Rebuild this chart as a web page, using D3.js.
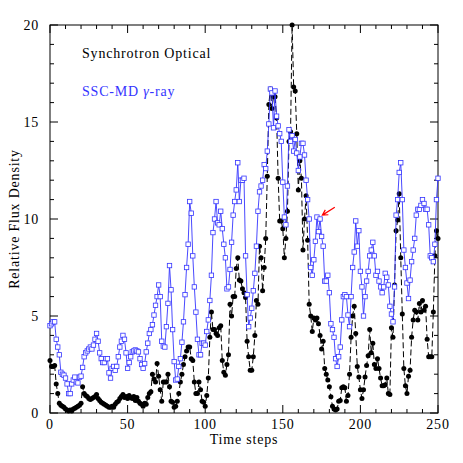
<!DOCTYPE html>
<html>
<head>
<meta charset="utf-8">
<script src="https://cdn.jsdelivr.net/npm/d3@7"></script>
<style>
  html, body { margin: 0; padding: 0; background: #fff; }
  svg text { font-family: "Liberation Serif", "DejaVu Serif", serif; letter-spacing: 0.8px; }
</style>
</head>
<body>
<svg class="flux-chart" width="463" height="463"></svg>
<script>
// values, one per time step (0..250)
const gamma = [
  4.5, 4.6, 4.7, 4.7, 3.8, 3.4, 3.0, 2.1, 2.0, 1.95,
  1.8, 1.5, 1.0, 1.0, 1.5, 1.7, 1.85, 1.6, 1.55, 1.85,
  1.9, 2.35, 2.9, 3.1, 3.2, 3.3, 3.4, 3.3, 3.5, 3.8,
  4.1, 3.7, 3.1, 2.8, 2.6, 2.6, 2.8, 2.8, 2.07, 1.8,
  2.3, 2.4, 2.2, 2.4, 2.9, 3.4, 3.7, 4.0, 3.8, 3.1,
  2.3, 2.6, 2.9, 3.15, 3.2, 3.25, 3.2, 3.15, 2.8, 2.5,
  2.3, 2.55, 3.15, 3.6, 4.1, 4.3, 4.55, 5.05, 5.55, 6.0,
  6.6, 6.0, 3.7, 3.45, 3.4, 4.45, 5.65, 7.6, 6.35, 4.3,
  2.65, 1.7, 1.75, 2.4, 2.8, 3.65, 4.7, 6.1, 7.5, 8.7,
  10.9, 10.3, 8.1, 6.5, 5.2, 3.8, 3.0, 3.0, 3.6, 3.6,
  3.5, 4.2, 4.8, 5.8, 7.1, 9.3, 10.0, 10.9, 9.8, 9.7,
  10.4, 9.5, 8.7, 8.0, 6.4, 6.5, 7.4, 8.8, 10.2, 10.9,
  11.5, 12.9, 10.9, 12.0, 12.0, 12.1, 8.1, 6.1, 4.45, 4.9,
  5.4, 6.3, 7.2, 8.6, 10.4, 11.4, 11.7, 12.0, 12.8, 12.6,
  13.5, 14.9, 16.7, 16.5, 14.7, 16.6, 15.3, 14.8, 14.4, 14.0,
  11.9, 10.1, 9.7, 11.7, 14.6, 14.0, 14.3, 13.5, 14.1, 13.4,
  12.5, 13.2, 13.9, 13.9, 13.3, 12.0, 11.0, 10.0, 7.5, 7.1,
  7.9, 8.85, 10.1, 9.35, 10.0, 9.1, 8.6, 6.8, 6.8, 7.1,
  6.2, 4.6, 4.3, 3.9, 2.8, 2.4, 2.9, 3.4, 4.8, 6.0,
  6.1, 6.0, 5.05, 4.45, 6.0, 7.5, 8.3, 9.9, 8.6, 9.4,
  7.3, 6.5, 5.0, 6.0, 6.8, 7.3, 8.1, 8.4, 8.8, 8.1,
  7.1, 7.3, 6.8, 6.5, 6.2, 6.5, 7.2, 7.0, 6.6, 5.5,
  5.1, 4.7, 6.5, 10.2, 11.0, 12.4, 12.9, 11.0, 8.4, 7.5,
  6.7, 5.9, 6.85, 7.8, 8.4, 9.0, 10.2, 10.5, 10.5, 10.7,
  11.0, 10.8, 10.5, 10.5, 9.7, 8.1, 8.0, 7.8, 8.7, 11.0,
  12.1
];

const optical = [
  2.7, 2.4, 2.4, 2.45, 1.5, 1.0, 0.5, 0.4, 0.35, 0.3,
  0.2, 0.15, 0.1, 0.15, 0.1, 0.2, 0.25, 0.3, 0.35, 0.4,
  0.5, 1.35, 1.0, 0.9, 0.85, 0.75, 0.7, 0.75, 0.8, 0.85,
  0.95, 0.75, 0.65, 0.55, 0.5, 0.45, 0.4, 0.35, 0.3, 0.3,
  0.35, 0.3, 0.45, 0.55, 0.6, 0.75, 0.85, 0.95, 0.8, 0.85,
  0.75, 0.9, 0.8, 0.75, 0.85, 0.65, 0.8, 0.6, 0.5, 0.45,
  0.35, 0.5, 0.45, 0.8, 1.0, 1.1, 2.0, 1.75, 1.6, 2.55,
  1.9, 1.2, 0.6, 1.6, 1.6, 1.6, 2.0, 1.35, 0.6, 0.55,
  0.3, 0.35, 0.6, 1.0, 1.6, 2.0, 2.5, 2.9, 3.2, 3.4,
  3.4, 2.8, 2.7, 1.6, 1.0, 1.0, 1.6, 1.2, 0.6, 0.55,
  0.35, 0.9, 1.8, 3.9, 5.2, 4.3, 4.3, 4.1, 4.0, 4.4,
  4.5, 2.7, 2.1, 1.95, 2.5, 3.0, 5.6, 5.0, 6.0, 6.0,
  7.45, 8.0, 6.85, 6.8, 6.4, 6.2, 5.95, 3.7, 2.9, 2.2,
  2.2, 2.9, 4.0, 5.8, 5.6, 8.6, 8.0, 6.3, 7.5, 9.0,
  12.2, 15.9, 16.7, 15.7, 16.3, 16.3, 15.2, 12.1, 9.9, 9.9,
  9.5, 8.0, 9.0, 10.4, 14.0, 14.5, 20.0, 16.8, 16.6, 14.4,
  11.5, 13.0, 12.1, 8.4, 10.0, 11.2, 8.9, 5.6, 5.0, 4.2,
  4.9, 4.8, 4.9, 4.6, 4.0, 3.3, 3.7, 2.3, 2.0, 1.7,
  1.35, 0.84, 0.35, 0.2, 0.15, 0.2, 0.6, 0.65, 1.3, 1.35,
  1.3, 0.6, 0.9, 2.0, 3.9, 5.0, 5.5, 4.1, 2.4, 1.85,
  1.2, 0.75, 1.2, 1.85, 2.45, 2.95, 4.3, 3.1, 3.6, 2.5,
  2.3, 2.8, 2.3, 1.8, 1.4, 1.4, 1.45, 1.8, 1.0, 0.95,
  4.4, 3.9, 6.6, 9.4, 9.95, 11.3, 8.0, 5.1, 2.3, 1.4,
  1.0, 1.9, 2.2, 3.9, 4.8, 5.3, 5.2, 4.8, 5.65, 5.2,
  5.8, 5.3, 5.5, 3.8, 2.9, 2.9, 2.9, 5.2, 8.1, 9.4,
  9.0
];

const xTicks = [0, 50, 100, 150, 200, 250];
const yTicks = [0, 5, 10, 15, 20];
const legendLabels = ["Synchrotron Optical", "SSC-MD"];

const blue = "#3535ff";

const svg = d3.select(".flux-chart");
const margin = { left: 50, right: 25, top: 25, bottom: 50 };
const width = 463, height = 463;

const x = d3.scaleLinear().domain([0, 250]).range([margin.left, width - margin.right]);
const y = d3.scaleLinear().domain([0, 20]).range([height - margin.bottom, margin.top]);

// frame
svg.append("rect")
  .attr("x", x(0)).attr("y", y(20))
  .attr("width", x(250) - x(0)).attr("height", y(0) - y(20))
  .attr("fill", "none").attr("stroke", "#000").attr("stroke-width", 1);

// inward ticks on all four sides
const xMinor = d3.range(0, 251, 10);
const yMinor = d3.range(0, 21, 1);
const tickLen = (v, step) => (v % step === 0 ? 8 : 4);

const ticks = svg.append("g").attr("stroke", "#000").attr("stroke-width", 1);
ticks.selectAll(".xb").data(xMinor).enter().append("line")
  .attr("x1", (d) => x(d)).attr("x2", (d) => x(d))
  .attr("y1", y(0)).attr("y2", (d) => y(0) - tickLen(d, 50));
ticks.selectAll(".xt").data(xMinor).enter().append("line")
  .attr("x1", (d) => x(d)).attr("x2", (d) => x(d))
  .attr("y1", y(20)).attr("y2", (d) => y(20) + tickLen(d, 50));
ticks.selectAll(".yl").data(yMinor).enter().append("line")
  .attr("y1", (d) => y(d)).attr("y2", (d) => y(d))
  .attr("x1", x(0)).attr("x2", (d) => x(0) + tickLen(d, 5));
ticks.selectAll(".yr").data(yMinor).enter().append("line")
  .attr("y1", (d) => y(d)).attr("y2", (d) => y(d))
  .attr("x1", x(250)).attr("x2", (d) => x(250) - tickLen(d, 5));

// tick labels
svg.append("g").selectAll("text").data(xTicks).enter().append("text")
  .attr("x", (d) => x(d)).attr("y", y(0) + 16)
  .attr("text-anchor", "middle").attr("font-size", 14)
  .text((d) => d);
svg.append("g").selectAll("text").data(yTicks).enter().append("text")
  .attr("x", x(0) - 11).attr("y", (d) => y(d) + 5)
  .attr("text-anchor", "end").attr("font-size", 14)
  .text((d) => d);

// axis titles
svg.append("text")
  .attr("x", (x(0) + x(250)) / 2).attr("y", 444)
  .attr("text-anchor", "middle").attr("font-size", 14)
  .text("Time steps");
svg.append("text")
  .attr("transform", `translate(19,${(y(0) + y(20)) / 2}) rotate(-90)`)
  .attr("text-anchor", "middle").attr("font-size", 14)
  .text("Relative Flux Density");

const line = d3.line().x((d, i) => x(i)).y((d) => y(d));

// synchrotron optical: dashed black with filled dots
svg.append("path")
  .datum(optical)
  .attr("d", line)
  .attr("fill", "none").attr("stroke", "#000")
  .attr("stroke-width", 1).attr("stroke-dasharray", "6,3");
svg.append("g").selectAll("circle").data(optical).enter().append("circle")
  .attr("cx", (d, i) => x(i)).attr("cy", (d) => y(d))
  .attr("r", 2.5).attr("fill", "#000");

// SSC-MD gamma-ray: solid blue with open squares
svg.append("path")
  .datum(gamma)
  .attr("d", line)
  .attr("fill", "none").attr("stroke", blue).attr("stroke-width", 0.9);
svg.append("g").selectAll("rect").data(gamma).enter().append("rect")
  .attr("x", (d, i) => x(i) - 2.2).attr("y", (d) => y(d) - 2.2)
  .attr("width", 4.4).attr("height", 4.4)
  .attr("fill", "#fff").attr("stroke", blue).attr("stroke-width", 0.8);

// legend
svg.append("text")
  .attr("x", 82).attr("y", 58).attr("font-size", 14)
  .text(legendLabels[0]);
const g2 = svg.append("text")
  .attr("x", 82).attr("y", 96).attr("font-size", 14).attr("fill", blue);
g2.append("tspan").text(legendLabels[1] + " ");
g2.append("tspan").attr("font-style", "italic").text("γ");
g2.append("tspan").text("-ray");

// red arrow marking the gamma peak after the flare
const arrowTail = [183.5, 10.6];
const arrowHead = [175.5, 10.2];
const ax1 = x(arrowTail[0]), ay1 = y(arrowTail[1]);
const ax2 = x(arrowHead[0]), ay2 = y(arrowHead[1]);
const ang = Math.atan2(ay2 - ay1, ax2 - ax1);
const headLen = 6;
svg.append("path")
  .attr("d", `M${ax1},${ay1}L${ax2},${ay2}` +
    `M${ax2 - headLen * Math.cos(ang - 0.5)},${ay2 - headLen * Math.sin(ang - 0.5)}` +
    `L${ax2},${ay2}` +
    `L${ax2 - headLen * Math.cos(ang + 0.5)},${ay2 - headLen * Math.sin(ang + 0.5)}`)
  .attr("fill", "none").attr("stroke", "#f00").attr("stroke-width", 1.2);
</script>
</body>
</html>
